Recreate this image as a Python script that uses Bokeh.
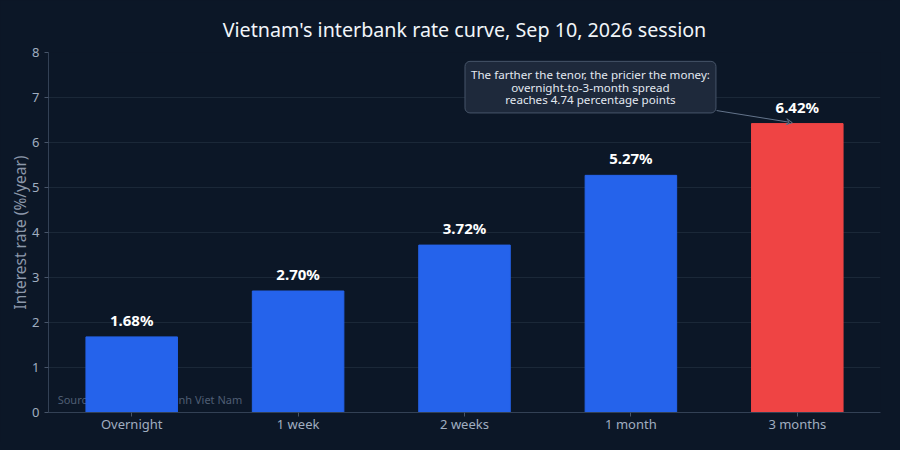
from bokeh.plotting import figure
from bokeh.models import (ColumnDataSource, LabelSet, Label, Arrow, VeeHead, FactorRange,
                          FixedTicker, Range1d, GlobalInlineStyleSheet)
from bokeh.core.properties import value
from bokeh.embed import file_html
from bokeh.resources import INLINE

tenors = ["Overnight", "1 week", "2 weeks", "1 month", "3 months"]
rates = [1.68, 2.70, 3.72, 5.27, 6.42]
colors = ["#2563eb", "#2563eb", "#2563eb", "#2563eb", "#ef4444"]
labels = ["%.2f%%" % r for r in rates]
y_ticks = [0, 1, 2, 3, 4, 5, 6, 7, 8]

BG = "#0c1727"
FONT = "Noto Sans"

src = ColumnDataSource(dict(x=tenors, y=rates, c=colors, t=labels))

p = figure(x_range=FactorRange(*tenors, range_padding=0), y_range=Range1d(0, 8),
           width=892, height=442, output_backend="svg", toolbar_location=None,
           min_border_left=48, min_border_right=12, min_border_top=52, min_border_bottom=30,
           background_fill_color=BG, border_fill_color=BG, outline_line_color=None)
p.stylesheets = [GlobalInlineStyleSheet(css="html, body { background-color: %s; }" % BG)]

p.title.text = "Vietnam's interbank rate curve, Sep 10, 2026 session"
p.title.align = "center"
p.title.text_color = "#f1f5f9"
p.title.text_font = FONT
p.title.text_font_size = "19.7px"
p.title.text_font_style = "normal"
p.title.offset = 0
p.title.standoff = 20

# source note, under the bars
p.add_layout(Label(x=0.055, y=0.3, text="Source: Thoi bao Tai chinh Viet Nam",
                   text_font=FONT, text_font_size="11px", text_color="#4f5e74",
                   text_baseline="middle", level="underlay"))

p.vbar(x="x", top="y", width=0.55, color="c", source=src)

p.add_layout(LabelSet(x="x", y="y", text="t", source=src, text_align="center",
                      text_baseline="bottom", y_offset=7, text_font=value(FONT),
                      text_font_size=value("15px"), text_font_style=value("bold"),
                      text_color=value("#ffffff")))

p.add_layout(Label(x=3.257, y=7.23,
                   text="The farther the tenor, the pricier the money:\novernight-to-3-month spread\nreaches 4.74 percentage points",
                   text_font=FONT, text_font_size="11.6px", text_color="#e2e8f0",
                   text_align="center", text_baseline="middle", text_line_height=0.82,
                   background_fill_color="#1e293b", background_fill_alpha=1.0,
                   border_line_color="#475569", border_line_width=1,
                   border_radius=5, padding=6))

p.add_layout(Arrow(x_start=4.015, y_start=6.71, x_end=4.47, y_end=6.44,
                   line_color="#64748b", line_width=1,
                   end=VeeHead(size=6, line_color="#64748b", line_width=1)))

p.yaxis.ticker = FixedTicker(ticks=y_ticks)
p.yaxis.axis_label = "Interest rate (%/year)"
for ax in (p.xaxis[0], p.yaxis[0]):
    ax.axis_line_color = "#334155"
    ax.major_tick_line_color = "#475569"
    ax.minor_tick_line_color = None
    ax.major_tick_out = 4
    ax.major_tick_in = 0
    ax.major_label_text_color = "#a0aec0"
    ax.major_label_text_font = FONT
    ax.major_label_text_font_size = "13px"
    ax.axis_label_text_color = "#8c98aa"
    ax.axis_label_text_font = FONT
    ax.axis_label_text_font_size = "15.5px"
    ax.axis_label_text_font_style = "normal"
p.yaxis.axis_label_standoff = -2
p.xaxis.major_label_standoff = -2

p.xgrid.grid_line_color = None
p.ygrid.grid_line_color = "#1b2838"
p.ygrid.grid_line_width = 1

open("out.html", "w").write(file_html(p, INLINE))
